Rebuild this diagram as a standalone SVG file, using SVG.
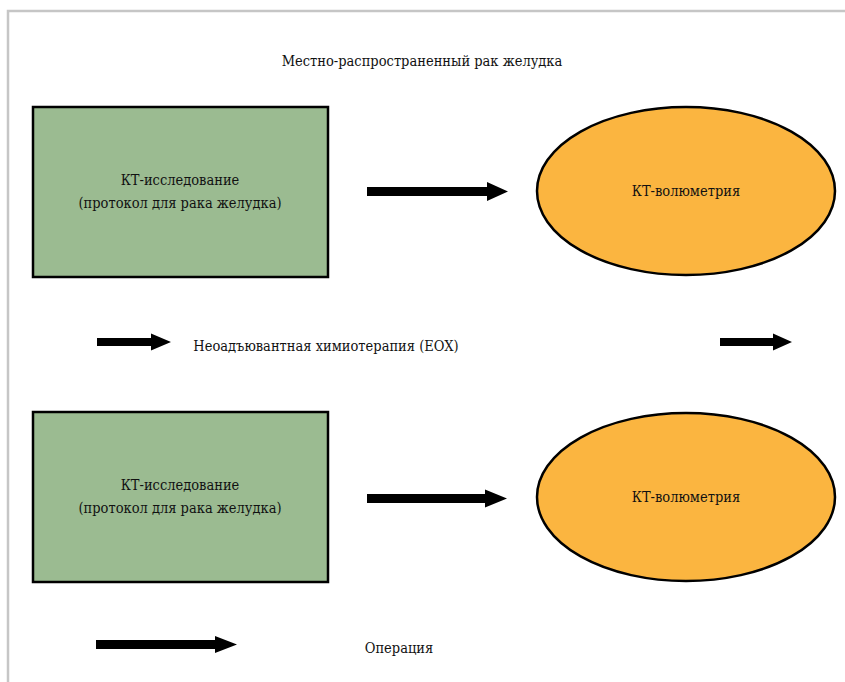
<svg xmlns="http://www.w3.org/2000/svg" width="845" height="682" viewBox="0 0 845 682">
<style>
text{font-family:'DejaVu Serif','Liberation Serif',serif;font-stretch:condensed;font-size:14.5px;fill:#111;text-anchor:middle;dominant-baseline:central}
.box{fill:#9bbb91;stroke:#000;stroke-width:2.5}
.ell{fill:#fbb540;stroke:#000;stroke-width:2.5}
.arr{fill:#000;stroke:none}
.frame{stroke:#c6c6c6;stroke-width:2.5;fill:none}
</style>
<rect x="0" y="0" width="845" height="682" fill="#fff"/>
<path class="frame" d="M8,682 V11 H845"/>
<text x="422" y="61">Местно-распространенный рак желудка</text>
<g id="ct1">
<rect class="box" x="33" y="107" width="295" height="170"/>
<text x="180" y="180">КТ-исследование</text>
<text x="180" y="203">(протокол для рака желудка)</text>
</g>
<g id="vol1">
<ellipse class="ell" cx="686" cy="191" rx="149" ry="84"/>
<text x="686" y="191">КТ-волюметрия</text>
</g>
<g id="chemo">
<text x="326" y="346">Неоадъювантная химиотерапия (EOX)</text>
</g>
<g id="ct2">
<rect class="box" x="33" y="412" width="295" height="170"/>
<text x="180" y="485">КТ-исследование</text>
<text x="180" y="508">(протокол для рака желудка)</text>
</g>
<g id="vol2">
<ellipse class="ell" cx="686" cy="497" rx="149" ry="84"/>
<text x="686" y="497">КТ-волюметрия</text>
</g>
<g id="op">
<text x="399" y="648">Операция</text>
</g>
<g id="connectors">
<path class="arr" d="M367,187 H487 V182 L508,191.5 L487,201 V196 H367 Z"/>
<path class="arr" d="M367,494 H485 V489.5 L507,498.5 L485,507.5 V503 H367 Z"/>
<path class="arr" d="M97,338 H151 V333.5 L171,342 L151,350.5 V346 H97 Z"/>
<path class="arr" d="M720,338 H773 V333.5 L792,342 L773,350.5 V346 H720 Z"/>
<path class="arr" d="M96,640 H215 V636 L237,644.5 L215,653 V649 H96 Z"/>
</g>
</svg>
